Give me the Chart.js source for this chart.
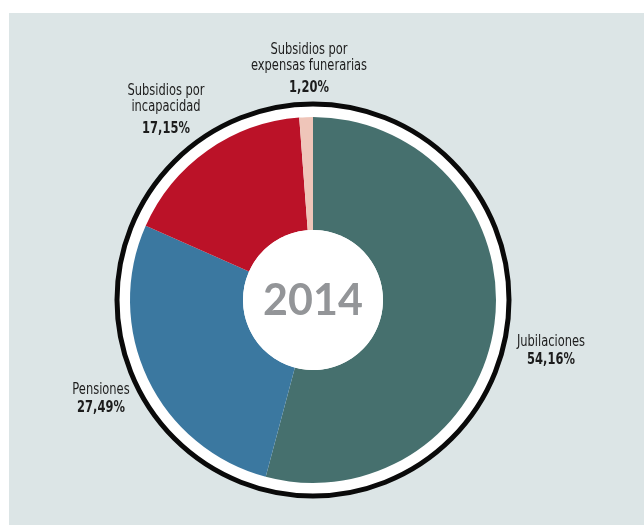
<!DOCTYPE html>
<html>
<head>
<meta charset="utf-8">
<script src="https://cdn.jsdelivr.net/npm/chart.js@4.4.1/dist/chart.umd.min.js"></script>
<style>
  html, body { margin: 0; padding: 0; background: #ffffff; }
  #wrap { width: 644px; height: 525px; }
</style>
</head>
<body>
<div id="wrap"><canvas id="myChart" width="644" height="525"></canvas></div>
<script>
// data
var categories = ["Jubilaciones", "Pensiones", "Subsidios por incapacidad", "Subsidios por expensas funerarias"];
var values = [54.16, 27.49, 17.15, 1.20];
var valueLabels = ["54,16%", "27,49%", "17,15%", "1,20%"];
var labelLines = [["Jubilaciones"], ["Pensiones"], ["Subsidios por", "incapacidad"], ["Subsidios por", "expensas funerarias"]];
var sliceColors = ["#46706e", "#3b78a0", "#bb1228", "#efc5b9"];
var centerText = "2014";

// where each label sits (x center, y of first line)
var labelPos = [[551, 342], [101, 390], [166, 91], [309, 50]];

var labelFont = '"DejaVu Sans Condensed", "Liberation Sans Narrow", sans-serif';

// condensed look: squeeze text horizontally
function squeezeText(ctx, text, x, y) {
    ctx.save();
    ctx.translate(x, y);
    ctx.scale(0.85, 1);
    ctx.fillText(text, 0, 0);
    ctx.restore();
}

var decor = {
    id: "decor",
    beforeDraw: function (chart) {
        var ctx = chart.ctx;
        ctx.save();
        ctx.fillStyle = "#ffffff";
        ctx.fillRect(0, 0, chart.width, chart.height);
        ctx.fillStyle = "#dce5e6";
        ctx.fillRect(9, 13, chart.width - 9, chart.height - 13);
        ctx.restore();
    },
    beforeDatasetsDraw: function (chart) {
        var arc = chart.getDatasetMeta(0).data[0];
        var ctx = chart.ctx;
        var r = arc.outerRadius;
        ctx.save();
        ctx.beginPath();
        ctx.arc(arc.x, arc.y, r + 12, 0, Math.PI * 2);
        ctx.fillStyle = "#ffffff";
        ctx.fill();
        ctx.beginPath();
        ctx.arc(arc.x, arc.y, r + 13, 0, Math.PI * 2);
        ctx.lineWidth = 5;
        ctx.strokeStyle = "#0a0a0a";
        ctx.stroke();
        ctx.restore();
    },
    afterDatasetsDraw: function (chart) {
        var arc = chart.getDatasetMeta(0).data[0];
        var ctx = chart.ctx;
        ctx.save();
        ctx.beginPath();
        ctx.arc(arc.x, arc.y, arc.innerRadius, 0, Math.PI * 2);
        ctx.fillStyle = "#ffffff";
        ctx.fill();
        ctx.fillStyle = "#939598";
        ctx.font = 'bold 43px "Lato", "Open Sans", sans-serif';
        ctx.textAlign = "center";
        ctx.textBaseline = "middle";
        ctx.fillText(centerText, arc.x, arc.y + 1);

        ctx.fillStyle = "#1c1c1c";
        for (var i = 0; i < categories.length; i++) {
            var x = labelPos[i][0];
            var y = labelPos[i][1];
            ctx.font = '15px ' + labelFont;
            for (var j = 0; j < labelLines[i].length; j++) {
                squeezeText(ctx, labelLines[i][j], x, y + j * 16);
            }
            ctx.font = 'bold 15px ' + labelFont;
            var gap = labelLines[i].length > 1 ? 22 : 18;
            squeezeText(ctx, valueLabels[i], x, y + (labelLines[i].length - 1) * 16 + gap);
        }
        ctx.restore();
    }
};

const ctx = document.getElementById("myChart");
new Chart(ctx, {
    type: "doughnut",
    data: {
        labels: categories,
        datasets: [{
            data: values,
            backgroundColor: sliceColors,
            borderWidth: 0
        }]
    },
    options: {
        responsive: false,
        animation: false,
        cutout: 70,
        layout: {
            padding: { left: 130, right: 148, top: 117, bottom: 42 }
        },
        plugins: {
            legend: { display: false },
            tooltip: { enabled: false }
        }
    },
    plugins: [decor]
});
</script>
</body>
</html>
